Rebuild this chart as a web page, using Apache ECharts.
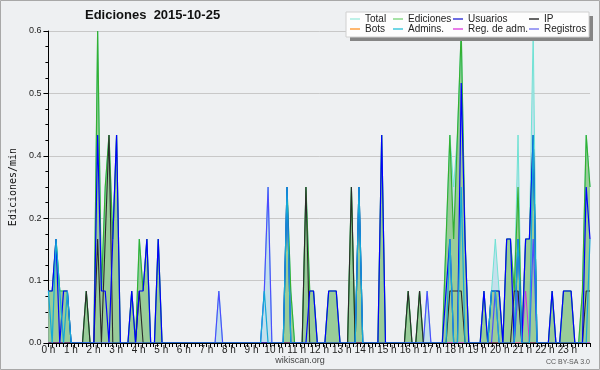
<!DOCTYPE html>
<html>
<head>
<meta charset="utf-8">
<script src="https://cdn.jsdelivr.net/npm/echarts@6/dist/echarts.min.js"></script>
<style>
  html, body { margin: 0; padding: 0; background: #eef0f2; }
  #chart { width: 600px; height: 370px; }
</style>
</head>
<body>
<div id="chart"></div>
<script>
// 10-minute slots over the day (0 .. 143), values in edits/min, only non-zero slots listed
const SLOTS = 144;
const hourLabels = ['0 h','1 h','2 h','3 h','4 h','5 h','6 h','7 h','8 h','9 h','10 h','11 h',
  '12 h','13 h','14 h','15 h','16 h','17 h','18 h','19 h','20 h','21 h','22 h','23 h'];
const yLabels = ['0.0', '0.1', '0.2', '0.4', '0.5', '0.6'];

const total = [[0,.1],[1,.1],[2,.2],[3,.1],[4,.1],[5,.1],[10,.1],[13,.6],[14,.1],[15,.3],[16,.4],[17,.2],[18,.4],
  [22,.1],[24,.2],[25,.1],[26,.2],[29,.2],[45,.1],[57,.1],[58,.3],[63,.3],[64,.1],[68,.3],[69,.1],[70,.1],
  [74,.1],[75,.1],[76,.1],[80,.3],[82,.3],[88,.4],[95,.1],[98,.1],[100,.1],[105,.2],[106,.4],[107,.3],[108,.4],
  [109,.6],[110,.2],[115,.1],[117,.1],[118,.2],[119,.1],[121,.2],[122,.2],[123,.1],[124,.4],[126,.2],[127,.2],
  [128,.6],[133,.1],[136,.1],[137,.1],[138,.1],[141,.1],[142,.4],[143,.3]];
const ediciones = [[0,.1],[1,.1],[2,.2],[3,.1],[4,.1],[5,.1],[10,.1],[13,.6],[14,.1],[15,.3],[16,.4],[17,.2],[18,.4],
  [22,.1],[24,.2],[25,.1],[26,.2],[29,.2],[63,.3],[64,.1],[68,.3],[69,.1],[70,.1],[74,.1],[75,.1],[76,.1],
  [80,.3],[82,.3],[88,.4],[95,.1],[98,.1],[105,.2],[106,.4],[107,.2],[108,.4],[109,.6],[110,.2],[115,.1],
  [117,.1],[118,.1],[119,.1],[121,.2],[122,.2],[123,.1],[124,.3],[126,.2],[127,.2],[128,.4],[133,.1],
  [136,.1],[137,.1],[138,.1],[141,.1],[142,.4],[143,.3]];
const usuarios = [[0,.1],[1,.1],[2,.2],[4,.1],[5,.1],[13,.4],[14,.1],[15,.1],[17,.2],[18,.4],[22,.1],[24,.1],
  [25,.1],[26,.2],[29,.2],[63,.3],[69,.1],[70,.1],[74,.1],[75,.1],[76,.1],[82,.3],[88,.4],[105,.1],[106,.2],
  [109,.5],[110,.2],[115,.1],[117,.1],[118,.1],[119,.1],[121,.2],[122,.2],[124,.2],[126,.2],[127,.2],[128,.4],
  [133,.1],[136,.1],[137,.1],[138,.1],[142,.3],[143,.2]];
const ip = [[10,.1],[13,.2],[15,.2],[16,.4],[24,.1],[68,.3],[80,.3],[95,.1],[98,.1],[106,.1],[107,.1],[108,.1],
  [109,.1],[123,.1],[124,.1],[142,.1],[143,.1]];
const bots = [];
const admins = [[0,.1],[2,.2],[3,.1],[5,.1],[57,.1],[63,.3],[82,.3],[106,.2],[109,.3],[117,.1],[118,.1],
  [124,.2],[128,.4],[143,.2]];
const regAdm = [[126,.1]];
const registros = [[45,.1],[57,.1],[58,.3],[100,.1],[118,.1],[124,.1],[128,.2]];

// slots are spread over the whole 0-24 h axis
function toPoints(sparse) {
  const vals = new Array(SLOTS).fill(0);
  sparse.forEach(([s, v]) => { vals[s] = v; });
  return vals.map((v, s) => [s * 24 / (SLOTS - 1), v]);
}

function line(name, data, color, width, area) {
  const s = {
    name: name, type: 'line', data: toPoints(data),
    symbol: 'none', showSymbol: false,
    lineStyle: { color: color, width: width },
    itemStyle: { color: color },
    emphasis: { disabled: true }
  };
  if (area) s.areaStyle = { color: area, opacity: 1 };
  return s;
}

const font = 'Liberation Sans';
const legendBase = {
  orient: 'vertical', top: 14, padding: 0, itemGap: 0,
  itemWidth: 10, itemHeight: 1.5, icon: 'rect', selectedMode: false, z: 6,
  textStyle: { fontFamily: font, fontSize: 10, color: '#222', lineHeight: 10 }
};
function legendItem(name, color) {
  return { name: name, itemStyle: { color: color } };
}

const chart = echarts.init(document.getElementById('chart'));
chart.setOption({
  animation: false,
  backgroundColor: '#eef0f2',
  title: {
    text: 'Ediciones  2015-10-25', left: 85, top: 9, padding: 0,
    textStyle: { fontFamily: font, fontWeight: 'bold', fontSize: 13, color: '#111' }
  },
  legend: [
    Object.assign({ left: 350, data: [legendItem('Total', '#a8ece0'), legendItem('Bots', '#ffa040')] }, legendBase),
    Object.assign({ left: 393, data: [legendItem('Ediciones', '#88d888'), legendItem('Admins.', '#40c8dc')] }, legendBase),
    Object.assign({ left: 453, data: [legendItem('Usuarios', '#3c3cd8'), legendItem('Reg. de adm.', '#e050e0')] }, legendBase),
    Object.assign({ left: 529, data: [legendItem('IP', '#333333'), legendItem('Registros', '#8080f0')] }, legendBase)
  ],
  grid: { left: 46, right: 10, top: 31, bottom: 27 },
  xAxis: {
    type: 'value', min: 0, max: 24, interval: 1, z: 10,
    axisLine: { lineStyle: { color: '#000', width: 1 } },
    axisTick: { length: 4, lineStyle: { color: '#000' } },
    minorTick: { show: true, splitNumber: 6, length: 4, lineStyle: { color: '#000' } },
    splitLine: { show: false },
    axisLabel: {
      margin: 2, fontFamily: font, fontSize: 10, color: '#222',
      formatter: function (v) { return hourLabels[v] || ''; }
    }
  },
  yAxis: {
    type: 'value', min: 0, max: 0.6, interval: 0.12,
    name: 'Ediciones/min', nameLocation: 'middle', nameGap: 28, nameRotate: 90,
    nameTextStyle: { fontFamily: 'DejaVu Sans Mono', fontSize: 10, color: '#111' },
    axisLine: { show: true, lineStyle: { color: '#000', width: 1 } },
    axisTick: { show: true, length: 5, lineStyle: { color: '#000' } },
    minorTick: { show: true, splitNumber: 4, length: 3, lineStyle: { color: '#000' } },
    splitLine: { lineStyle: { color: '#c8c8c8' } },
    axisLabel: {
      margin: 7, fontFamily: font, fontSize: 9, color: '#222',
      formatter: function (v, i) { return yLabels[i]; }
    }
  },
  series: [
    line('Total', total, '#6fe2d4', 1, '#c4e0ec'),
    line('Ediciones', ediciones, '#33b033', 1.2, '#99cc99'),
    line('Bots', bots, '#ff9933', 1),
    line('Registros', registros, '#4d4dff', 1.2),
    line('Reg. de adm.', regAdm, '#cc33dd', 1),
    line('IP', ip, '#2a2a2a', 1.1),
    line('Usuarios', usuarios, '#0000ff', 1.2),
    line('Admins.', admins, '#14a8d8', 1.2)
  ],
  graphic: [
    { type: 'rect', z: 5, shape: { x: 350, y: 16, width: 243, height: 25 }, style: { fill: '#858585' } },
    { type: 'rect', z: 5, shape: { x: 346, y: 12, width: 243, height: 25 }, style: { fill: '#fdfdfd', stroke: '#d0d0d0', lineWidth: 1 } },
    { type: 'text', z: 5, style: { text: 'wikiscan.org', x: 300, y: 361, align: 'center', verticalAlign: 'middle', textAlign: 'center', textVerticalAlign: 'middle', font: '9px "Liberation Sans"', fill: '#444' } },
    { type: 'text', z: 5, style: { text: 'CC BY-SA 3.0', x: 590, y: 362, align: 'right', verticalAlign: 'middle', textAlign: 'right', textVerticalAlign: 'middle', font: '7px "Liberation Sans"', fill: '#555' } },
    { type: 'rect', z: 5, shape: { x: 0.5, y: 0.5, width: 599, height: 369 }, style: { fill: null, stroke: '#a8a8a8', lineWidth: 1 } }
  ]
});
window.addEventListener('resize', function () { chart.resize(); });
</script>
</body>
</html>
